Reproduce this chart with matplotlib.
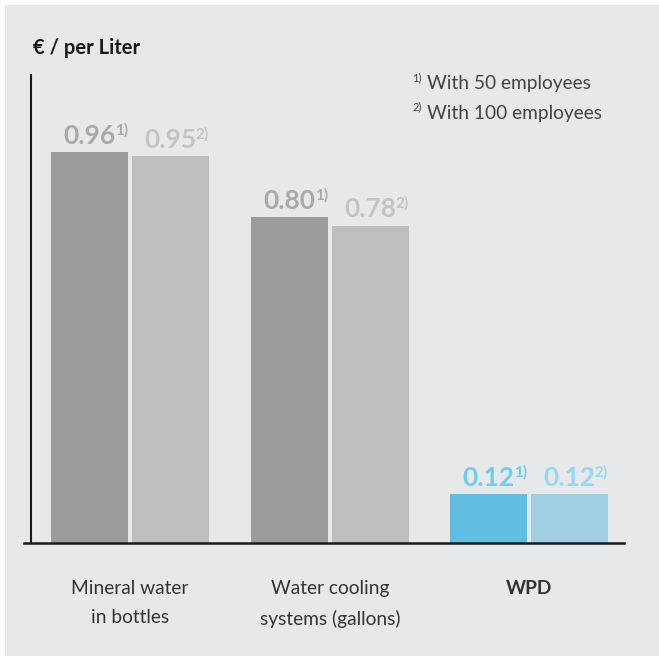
import matplotlib.pyplot as plt
from matplotlib.patches import Rectangle

# ---- Data ----
categories = ['Mineral water\nin bottles', 'Water cooling\nsystems (gallons)', 'WPD']
price_50 = [0.96, 0.80, 0.12]
price_100 = [0.95, 0.78, 0.12]
notes = ['1)', '2)']
note_text = ['With 50 employees', 'With 100 employees']

# ---- Styles ----
bar_cols_50 = ['#9b9c9e', '#9b9c9e', '#62bde2']
bar_cols_100 = ['#bdbec0', '#bdbec0', '#a0cfe3']
txt_cols_50 = ['#a9aaac', '#a9aaac', '#6ccdf3']
txt_cols_100 = ['#c3c4c6', '#c3c4c6', '#97d7f2']
panel = '#e7e8ea'
font = 'Lato'

W, H = 659, 656
fig = plt.figure(figsize=(W / 100, H / 100), dpi=100, facecolor='white')
fig.patches.append(Rectangle((5 / W, 0), 1 - 5 / W, 1 - 5 / H, transform=fig.transFigure,
                             facecolor=panel, edgecolor='none', zorder=-10))

ax = fig.add_axes([24 / W, (H - 543) / H, 600 / W, 468 / H])
ax.set_facecolor('none')

bw = 0.385
off = 0.2025
x = [0, 1.0, 1.995]
b1 = ax.bar([v - off for v in x], price_50, bw, color=bar_cols_50, zorder=2)
b2 = ax.bar([v + off for v in x], price_100, bw, color=bar_cols_100, zorder=2)

def label(bars, vals, cols, sup):
    for r, v, c in zip(bars, vals, cols):
        cx = r.get_x() + r.get_width() / 2
        t = ax.annotate(f'{v:.2f}', xy=(cx, v), xytext=(0, 6), textcoords='offset points',
                        ha='center', va='baseline', fontsize=19, fontweight='bold',
                        color=c, family=font)
        ax.annotate(sup, xy=(1.0, v), xycoords=(t, 'data'), xytext=(-0.5, 13),
                    textcoords='offset points', ha='left', va='baseline',
                    fontsize=11, fontweight='bold', color=c, family=font)

label(b1, price_50, txt_cols_50, notes[0])
label(b2, price_100, txt_cols_100, notes[1])

ax.set_xlim(-0.53, 2.47)
ax.set_ylim(0, 1.15)
ax.set_xticks([])
ax.set_yticks([])
for s in ['top', 'right']:
    ax.spines[s].set_visible(False)
ax.spines['left'].set_position(('axes', 7 / 600))
ax.spines['left'].set_linewidth(1.5)
ax.spines['bottom'].set_linewidth(1.8)
ax.spines['left'].set_color('#1a1a1a')
ax.spines['bottom'].set_color('#1a1a1a')

for i, (xc, lab) in enumerate(zip(x, categories)):
    ax.text(xc, -37 / 407, lab, ha='center', va='top', fontsize=13.8,
            fontweight='bold' if lab == 'WPD' else 'normal',
            color='#333333', family=font, linespacing=1.85)

fig.text(33 / W, 1 - 48 / H, '€ / per Liter', ha='left', va='center', fontsize=14.5,
         fontweight='bold', color='#1a1a1a', family=font)

for i, (n, t) in enumerate(zip(notes, note_text)):
    yy = 1 - (84 + 29 * i) / H
    fig.text(422 / W, yy + 1 / H, n, ha='right', va='bottom', fontsize=8, color='#444444', family=font)
    fig.text(427 / W, yy, t, ha='left', va='center', fontsize=13.8, color='#444444', family=font)

fig.savefig('out.png', dpi=100, facecolor=fig.get_facecolor())
